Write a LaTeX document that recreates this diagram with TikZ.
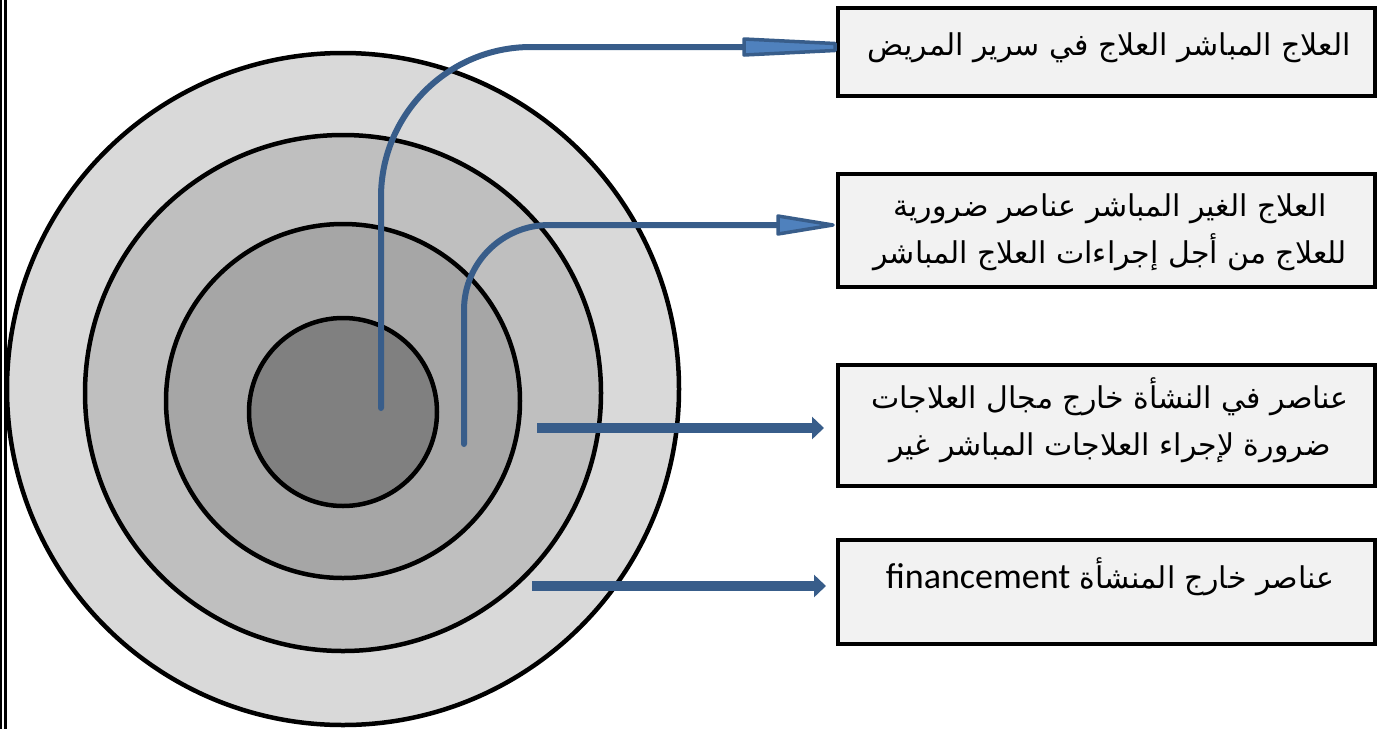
\documentclass[tikz,border=0pt]{standalone}
\usepackage{fontspec}
\usetikzlibrary{calc,arrows.meta}
\TeXXeTstate=1
\newfontfamily\arabicfont[Script=Arabic]{DejaVu Sans}
\newfontfamily\latinfont{Carlito}
\definecolor{ringA}{HTML}{D9D9D9}
\definecolor{ringB}{HTML}{BFBFBF}
\definecolor{ringC}{HTML}{A6A6A6}
\definecolor{ringD}{HTML}{808080}
\definecolor{boxfill}{HTML}{F2F2F2}
\definecolor{darkblue}{HTML}{385D8A}
\definecolor{lightblue}{HTML}{4F81BD}
\begin{document}
\begin{tikzpicture}[x=1pt,y=-1pt,
  ring/.style={draw=black,line width=4.5pt},
  infobox/.style={draw=black,line width=4pt,fill=boxfill,rectangle,inner sep=0pt,minimum width=537pt},
  lbl/.style={font=\arabicfont\fontsize{30}{36}\selectfont,anchor=base,inner sep=0pt},
  conn/.style={draw=darkblue,line width=6pt,line cap=round},
  headshape/.style={fill=lightblue,draw=darkblue,line width=3.5pt,line join=round},
  blockarrow/.style={draw=darkblue,line width=10pt,-{Triangle[length=12pt,width=22pt]}}]
\useasboundingbox (0,0) rectangle (1379,729);
% left double border
\draw[line width=2pt] (1,0) -- (1,729);
\draw[line width=2.5pt] (5.3,0) -- (5.3,729);
% rings
\filldraw[ring,fill=ringA] (343,389) circle[radius=336pt];
\filldraw[ring,fill=ringB] (343,393) circle[radius=258pt];
\filldraw[ring,fill=ringC] (343,401) circle[radius=177pt];
\filldraw[ring,fill=ringD] (343,412) circle[radius=94pt];
% boxes
\node[infobox,minimum height=88pt] (b1) at (1106.5,52) {};
\node[infobox,minimum height=113pt] (b2) at (1106.5,230.5) {};
\node[infobox,minimum height=121pt] (b3) at (1106.5,425.5) {};
\node[infobox,minimum height=104pt] (b4) at (1106.5,592) {};
% texts
\node[lbl] (t1) at (1109,55) {\beginR العلاج المباشر العلاج في سرير المريض\endR};
\node[lbl] (t2a) at (1110,216) {\beginR العلاج الغير المباشر عناصر ضرورية\endR};
\node[lbl] (t2b) at (1110,263) {\beginR للعلاج من أجل إجراءات العلاج المباشر\endR};
\node[lbl] (t3a) at (1110,408) {\beginR عناصر في النشأة خارج مجال العلاجات\endR};
\node[lbl] (t3b) at (1110,455) {\beginR ضرورة لإجراء العلاجات المباشر غير\endR};
\node[lbl] (t4) at (1110,588) {\beginR عناصر خارج المنشأة \beginL{\latinfont\fontsize{36}{40}\selectfont financement}\endL\endR};
% connector 1
\coordinate (s1) at (381,408);
\coordinate (h1) at ($(b1.west)+(-92,-5)$);
\draw[conn,rounded corners=150pt] (s1) |- (h1);
\filldraw[headshape] ($(h1)+(0,-8)$) -- ($(b1.west)+(-1,-8.5)$) -- ($(b1.west)+(-1,-1.5)$) -- ($(h1)+(0,8)$) -- cycle;
% connector 2
\coordinate (s2) at (464,444);
\coordinate (h2) at ($(b2.west)+(-58,-5.5)$);
\draw[conn,rounded corners=85pt] (s2) |- (h2);
\filldraw[headshape] ($(h2)+(0,-9)$) -- ($(b2.west)+(-3,-5.5)$) -- ($(h2)+(0,9)$) -- cycle;
% block arrows
\coordinate (s3) at (537,428);
\draw[blockarrow] (s3) -- ($(b3.west |- s3)+(-12,0)$);
\coordinate (s4) at (532,586);
\draw[blockarrow] (s4) -- ($(b4.west |- s4)+(-10,0)$);
\end{tikzpicture}
\end{document}
